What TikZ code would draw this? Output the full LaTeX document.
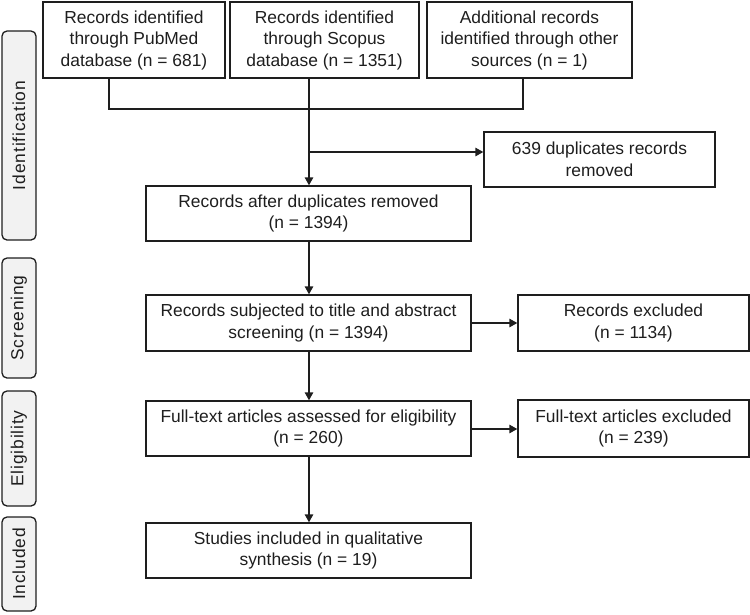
\documentclass[tikz,border=0pt]{standalone}
\usepackage{fontspec}
\setmainfont{Liberation Sans}
\newfontfamily\sidefont[LetterSpace=5]{Liberation Sans}
\usetikzlibrary{arrows.meta}
\definecolor{ink}{HTML}{1E1E1E}
\definecolor{sidefill}{HTML}{F2F2F2}
\begin{document}
\begin{tikzpicture}[x=1pt,y=-1pt,
  box/.style={draw=ink, line width=1.4pt, align=center, inner sep=2pt,
    font=\fontsize{17.4}{21.5}\selectfont, text=ink},
  sidebox/.style={draw=ink, fill=sidefill, rounded corners=5pt, line width=1.3pt,
    rotate=90, minimum height=34pt, inner sep=0pt,
    font=\sidefont\fontsize{17.4}{21.5}\selectfont, text=ink},
  conn/.style={line width=1.4pt, draw=ink},
  arr/.style={conn, -{Triangle[length=8pt,width=8.5pt]}}]
\useasboundingbox (0,0) rectangle (750,614);

% side labels
\node[sidebox, minimum width=209pt] (sid) at (19,135.5) {Identification};
\node[sidebox, minimum width=120pt] (sscr) at (19,318) {Screening};
\node[sidebox, minimum width=115pt] (selg) at (19,448.5) {Eligibility};
\node[sidebox, minimum width=94pt] (sinc) at (19,564) {Included};

% top boxes
\node[box, minimum width=182pt, minimum height=76pt] (pub) at (134,40)
  {Records identified\\through PubMed\\database (n = 681)};
\node[box, minimum width=189pt, minimum height=76pt] (sco) at (324.5,40)
  {Records identified\\through Scopus\\database (n = 1351)};
\node[box, minimum width=205pt, minimum height=76pt] (add) at (529.5,40)
  {Additional records\\identified through other\\sources (n = 1)};

\node[box, minimum width=231pt, minimum height=55pt] (dup) at (599.5,159.5)
  {639 duplicates records\\removed};

% main column
\node[box, minimum width=325pt, minimum height=55pt] (after) at (308.5,213.5)
  {Records after duplicates removed\\(n = 1394)};
\node[box, minimum width=325pt, minimum height=56pt] (scr) at (308.5,323)
  {Records subjected to title and abstract\\screening (n = 1394)};
\node[box, minimum width=231pt, minimum height=56pt] (exc1) at (633.5,323)
  {Records excluded\\(n = 1134)};
\node[box, minimum width=325pt, minimum height=55pt] (elg) at (308.5,428.5)
  {Full-text articles assessed for eligibility\\(n = 260)};
\node[box, minimum width=231pt, minimum height=57pt] (exc2) at (633.5,428.5)
  {Full-text articles excluded\\(n = 239)};
\node[box, minimum width=325pt, minimum height=55pt] (inc) at (308.5,550.5)
  {Studies included in qualitative\\synthesis (n = 19)};

% connectors
\coordinate (j1) at (109,109);
\coordinate (j2) at (309,109);
\coordinate (j3) at (523,109);
\coordinate (br) at (309,152);
\coordinate (ey) at (309,429);

\draw[conn] (j1 |- pub.south) -- (j1) -- (j3) -- (j3 |- add.south);
\draw[conn] (j2 |- sco.south) -- (j2);
\draw[arr] (j2) -- (j2 |- after.north);
\draw[arr] (br) -- (dup.west |- br);

\draw[arr] (after.south -| br) -- (scr.north -| br);
\draw[arr] (scr.east) -- (exc1.west);
\draw[arr] (scr.south -| br) -- (elg.north -| br);
\draw[arr] (elg.east |- ey) -- (exc2.west |- ey);
\draw[arr] (elg.south -| br) -- (inc.north -| br);
\end{tikzpicture}
\end{document}
